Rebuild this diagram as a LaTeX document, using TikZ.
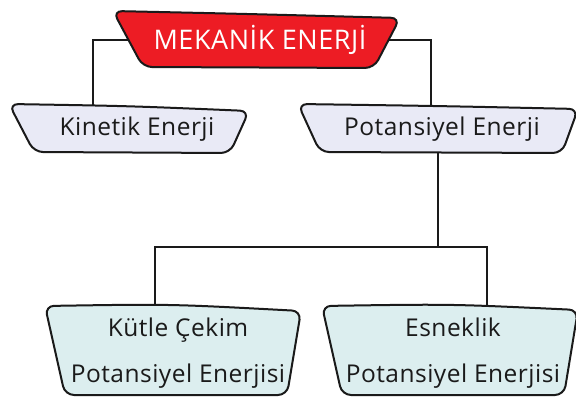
\documentclass[tikz,border=0pt]{standalone}
\usepackage{fontspec}
\setmainfont[LetterSpace=2]{Open Sans}
\definecolor{mekred}{HTML}{ED1C24}
\definecolor{lav}{HTML}{E9EAF6}
\definecolor{aqua}{HTML}{DCEEEF}
\definecolor{ink}{HTML}{1A1A1A}
\begin{document}
\begin{tikzpicture}[x=1pt,y=-1pt,
  conn/.style={draw=ink,line width=1.8pt},
  shapebox/.style={draw=ink,line width=2pt,rounded corners=9pt},
  lbl/.style={font=\fontsize{24.5}{28}\selectfont,text=ink,align=center},
  mlbl/.style={font=\fontsize{24.5}{46}\selectfont,text=ink,align=center}]
\useasboundingbox (0,0) rectangle (576,398);
\fill[white] (0,0) rectangle (576,398);
% anchor coordinates
\coordinate (mekC) at (258,40);
\coordinate (kinT) at (93,106);
\coordinate (potT) at (431,107);
\coordinate (potB) at (438,150);
\coordinate (split) at (438,247);
\coordinate (kcT) at (155,306);
\coordinate (esT) at (487,306);
% connectors
\draw[conn] (kinT) -- (kinT |- mekC) -- (potT |- mekC) -- (potT);
\draw[conn] (potB) -- (split);
\draw[conn] (kcT) |- (split) -| (esT);
% shapes
\draw[shapebox,fill=mekred] (113,11) .. controls (250,14) .. (400,18) -- (374,68) -- (143,67) -- cycle;
\draw[shapebox,fill=lav] (9,104) .. controls (130,106) .. (249,111) -- (230,153) -- (34,152) -- cycle;
\draw[shapebox,fill=lav] (298,104) .. controls (440,106) .. (578,109) -- (562,153) -- (320,152) -- cycle;
\draw[shapebox,fill=aqua] (45,306) .. controls (170,304) .. (301,311) -- (287,395) -- (65,395) -- cycle;
\draw[shapebox,fill=aqua] (322,306) .. controls (450,304) .. (578,310) -- (564,395) -- (342,395) -- cycle;
% labels
\node[lbl,text=white,font=\fontsize{27}{30}\selectfont] (mek) at (260,40) {MEKANİK ENERJİ};
\node[lbl] (kin) at (137,129) {Kinetik Enerji};
\node[lbl] (pot) at (442,129) {Potansiyel Enerji};
\node[mlbl] (kc) at (178,353) {Kütle Çekim\\Potansiyel Enerjisi};
\node[mlbl] (es) at (453,353) {Esneklik\\Potansiyel Enerjisi};
\end{tikzpicture}
\end{document}
